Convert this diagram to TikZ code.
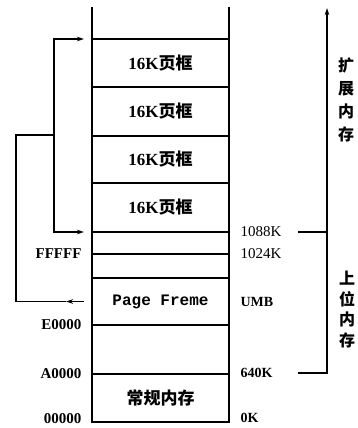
\documentclass[tikz,border=0pt]{standalone}
\usepackage{fontspec}
\setmainfont{Liberation Serif}
\newfontfamily\cjk{Noto Sans CJK SC}
\newfontfamily\monof{Liberation Mono}
\usetikzlibrary{arrows.meta}
\begin{document}
\begin{tikzpicture}[x=1pt,y=-1pt,
  line width=1.1pt,
  cell/.style={draw,rectangle,minimum width=137pt,inner sep=0pt,outer sep=0pt},
  arr/.style={-{Stealth[length=7pt,width=4.5pt]}},
  frtext/.style={font=\fontsize{17}{17}\selectfont},
  lab/.style={font=\bfseries\fontsize{15}{15}\selectfont,inner sep=0pt},
  rlab/.style={font=\fontsize{15}{15}\selectfont,inner sep=0pt,anchor=west},
  vtext/.style={font=\cjk\bfseries\fontsize{16}{23}\selectfont,align=center,inner sep=0pt}]
\useasboundingbox (0,0) rectangle (358,428);
% column cells
\node[cell,minimum height=48pt,frtext] (f1) at (160.5,63) {\bfseries 16K{\cjk 页框}};
\node[cell,minimum height=49pt,frtext] (f2) at (160.5,111.5) {\bfseries 16K{\cjk 页框}};
\node[cell,minimum height=47pt,frtext] (f3) at (160.5,159.5) {\bfseries 16K{\cjk 页框}};
\node[cell,minimum height=49pt,frtext] (f4) at (160.5,207.5) {\bfseries 16K{\cjk 页框}};
\node[cell,minimum height=22pt] (r5) at (160.5,243) {};
\node[cell,minimum height=24pt] (r6) at (160.5,266) {};
\node[cell,minimum height=47pt,font=\monof\bfseries\fontsize{16}{16}\selectfont] (pf) at (160.5,301.5) {Page Freme};
\node[cell,minimum height=49pt] (r8) at (160.5,349.5) {};
\node[cell,minimum height=48pt,font=\cjk\bfseries\fontsize{17}{17}\selectfont] (conv) at (160.5,398) {常规内存};
% open top of column
\coordinate (tl) at (92,7);
\coordinate (tr) at (229,7);
\draw (f1.north west) -- (tl);
\draw (f1.north east) -- (tr);
% left labels
\node[lab,anchor=east] (lF) at (82,254) {FFFFF};
\node[lab,anchor=east] (lE) at (82,325) {E0000};
\node[lab,anchor=east] (lA) at (82,374) {A0000};
\node[lab,anchor=east] (l0) at (82,419) {00000};
% right labels
\node[rlab] (k1088) at (240,232) {1088K};
\node[rlab] (k1024) at (240,254) {1024K};
\node[rlab,font=\bfseries\fontsize{14}{14}\selectfont] (kumb) at (240,302) {UMB};
\node[rlab,font=\bfseries\fontsize{14}{14}\selectfont] (k640) at (240,373) {640K};
\node[rlab,font=\bfseries\fontsize{14}{14}\selectfont] (k0) at (240,418) {0K};
% right bracket and arrow
\coordinate (d1) at (298,232);
\coordinate (b1) at (327,232);
\coordinate (d2) at (298,373);
\coordinate (btop) at (327,8);
\draw (d1) -- (b1);
\draw[arr] (d2) -| (btop);
\node[vtext] (ext) at (346,99.5) {扩\\展\\内\\存};
\node[vtext,font=\cjk\bfseries\fontsize{16}{20.5}\selectfont] (umbt) at (347,309.5) {上\\位\\内\\存};
% left connectors
\coordinate (j) at (54,135);
\coordinate (k) at (16,135);
\draw[arr,shorten >=8pt] (j) |- (f1.north west);
\draw[arr,shorten >=8pt] (j) |- (r5.north west);
\path (pf.west) ++(-8,0) coordinate (pfa) ++(-18,0) coordinate (pfb);
\draw[arr] (pfa) -- (pfb);
\draw (pfb) -| (k) -- (j);
\end{tikzpicture}
\end{document}
